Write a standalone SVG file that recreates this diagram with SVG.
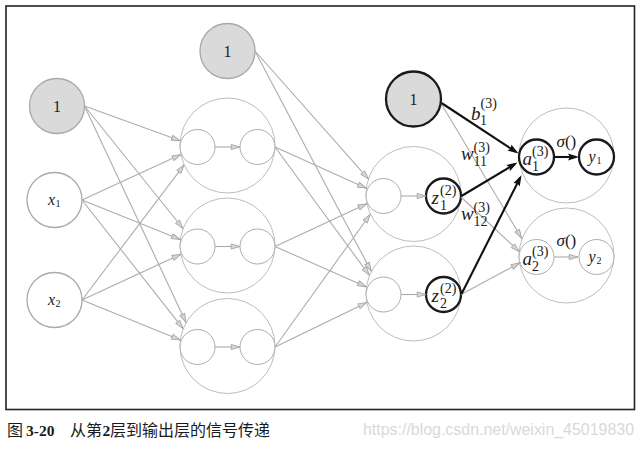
<svg xmlns="http://www.w3.org/2000/svg" width="644" height="450" viewBox="0 0 644 450">
<defs>
<marker id="ag" markerUnits="userSpaceOnUse" markerWidth="11" markerHeight="8" viewBox="0 0 11 8" refX="9.8" refY="4" orient="auto">
<path d="M1,1.4 L9.6,4 L1,6.6 Z" fill="#d6d6d6" stroke="#a6a6a6" stroke-width="0.9"/>
</marker>
<marker id="ab" markerUnits="userSpaceOnUse" markerWidth="12" markerHeight="9" viewBox="0 0 12 9" refX="8" refY="4.5" orient="auto">
<path d="M0,0.9 L11,4.5 L0,8.1 L1.8,4.5 Z" fill="#111"/>
</marker>
</defs>
<style>
.frame{fill:none;stroke:#222;stroke-width:1.6}
.big{fill:none;stroke:#bdbdbd;stroke-width:1}
.in{fill:#fff;stroke:#adadad;stroke-width:1}
.src{fill:#fff;stroke:#a9a9a9;stroke-width:1.3}
.bias{fill:#dadada;stroke:#a9a9a9;stroke-width:1.3}
.biasK{fill:#dadada;stroke:#1a1a1a;stroke-width:2.3}
.inK{fill:#fff;stroke:#1a1a1a;stroke-width:2.3}
.g{fill:none;stroke:#acacac;stroke-width:1.1;marker-end:url(#ag)}
.k{fill:none;stroke:#111;stroke-width:2.1;marker-end:url(#ab)}
.t{font-family:"Liberation Serif","DejaVu Serif",serif;fill:#1a1a1a}
.m{font-family:"Liberation Serif","DejaVu Serif",serif;font-style:italic;fill:#1a1a1a}
.one{font-size:16px;text-anchor:middle}
.L{font-size:19px}
.s{font-size:14px}
.cap{font-family:"Noto Sans CJK SC","Noto Sans",sans-serif;font-size:16px;fill:#1a1a1a}
.capb{font-family:"Liberation Serif","DejaVu Serif",serif;font-weight:bold;font-size:15.5px;fill:#1a1a1a}
</style>
<rect class="frame" x="6" y="6" width="628.5" height="403.5"/>

<g id="n-b0"><circle class="bias" cx="57" cy="106" r="27.5"/><text class="t one" x="57" y="111.5">1</text></g>
<g id="n-x1"><circle class="src" cx="54.5" cy="200" r="27.5"/><text class="m" x="48" y="204.5" font-size="16">x</text><text class="t" x="55.5" y="206.5" font-size="10">1</text></g>
<g id="n-x2"><circle class="src" cx="54.5" cy="300" r="27.5"/><text class="m" x="48" y="304.5" font-size="16">x</text><text class="t" x="55.5" y="306.5" font-size="10">2</text></g>
<g id="n-b1"><circle class="bias" cx="227.5" cy="51" r="27.5"/><text class="t one" x="227.5" y="56.5">1</text></g>

<g id="u-1-1"><circle class="big" cx="227.5" cy="145.5" r="47.5"/>
<g id="n-a11"><circle class="in" cx="197.5" cy="147" r="17.5"/></g>
<g id="n-z11"><circle class="in" cx="257.5" cy="147" r="17.5"/></g></g>
<g id="u-1-2"><circle class="big" cx="227.5" cy="245.5" r="47.5"/>
<g id="n-a12"><circle class="in" cx="197.5" cy="246.5" r="17.5"/></g>
<g id="n-z12"><circle class="in" cx="257.5" cy="246.5" r="17.5"/></g></g>
<g id="u-1-3"><circle class="big" cx="227.5" cy="346" r="47.5"/>
<g id="n-a13"><circle class="in" cx="197.5" cy="347" r="17.5"/></g>
<g id="n-z13"><circle class="in" cx="257.5" cy="347" r="17.5"/></g></g>

<g id="u-2-1"><circle class="big" cx="413.5" cy="194" r="47.5"/>
<g id="n-a21"><circle class="in" cx="383.5" cy="196" r="17.5"/></g>
<g id="n-z21"><circle class="inK" cx="443.5" cy="196" r="17.5"/>
<text class="m L" x="431.5" y="203.5">z</text><text class="t s" x="440" y="194.5">(2)</text><text class="t s" x="440" y="209.5">1</text></g></g>
<g id="u-2-2"><circle class="big" cx="413.5" cy="293.5" r="47.5"/>
<g id="n-a22"><circle class="in" cx="383.5" cy="294.5" r="17.5"/></g>
<g id="n-z22"><circle class="inK" cx="443.5" cy="294.5" r="17.5"/>
<text class="m L" x="431.5" y="302">z</text><text class="t s" x="440" y="293">(2)</text><text class="t s" x="440" y="308">2</text></g></g>

<g id="n-b2"><circle class="biasK" cx="413.5" cy="99" r="27.5"/><text class="t one" x="413.5" y="104.5">1</text></g>

<g id="u-3-1"><circle class="big" cx="566.5" cy="155.5" r="47.5"/>
<g id="n-a31"><circle class="inK" cx="536.5" cy="157" r="17.5"/>
<text class="m L" x="522.5" y="164.5">a</text><text class="t s" x="532" y="155.5">(3)</text><text class="t s" x="532" y="170.5">1</text></g>
<g id="n-y1"><circle class="inK" cx="596.5" cy="157" r="17.5"/>
<text class="m" x="588.5" y="162" font-size="16">y</text><text class="t" x="596.5" y="164" font-size="10">1</text></g>
<text class="t" x="556.5" y="146.5" font-size="17"><tspan font-style="italic">σ</tspan>()</text></g>
<g id="u-3-2"><circle class="big" cx="566.5" cy="255.5" r="47.5"/>
<g id="n-a32"><circle class="in" cx="536.5" cy="257" r="17.5"/>
<text class="m L" x="522.5" y="264.5">a</text><text class="t s" x="532" y="255.5">(3)</text><text class="t s" x="532" y="270.5">2</text></g>
<g id="n-y2"><circle class="in" cx="596.5" cy="257" r="17.5"/>
<text class="m" x="588.5" y="262" font-size="16">y</text><text class="t" x="596.5" y="264" font-size="10">2</text></g>
<text class="t" x="556.5" y="246" font-size="17"><tspan font-style="italic">σ</tspan>()</text></g>

<g id="connectors">
<line class="g" x1="84.5" y1="106" x2="180.3" y2="140.7"/>
<line class="g" x1="84.5" y1="106" x2="183" y2="228.5"/>
<line class="g" x1="84.5" y1="106" x2="186" y2="322.4"/>
<line class="g" x1="82" y1="200" x2="180.9" y2="154.6"/>
<line class="g" x1="82" y1="200" x2="180.3" y2="239.6"/>
<line class="g" x1="82" y1="200" x2="183.1" y2="328.7"/>
<line class="g" x1="82" y1="300" x2="184.1" y2="164.8"/>
<line class="g" x1="82" y1="300" x2="180.9" y2="254.2"/>
<line class="g" x1="82" y1="300" x2="180.3" y2="340"/>
<line class="g" x1="215" y1="147" x2="240" y2="147"/>
<line class="g" x1="215" y1="246.5" x2="240" y2="246.5"/>
<line class="g" x1="215" y1="347" x2="240" y2="347"/>
<line class="g" x1="255" y1="51" x2="368.6" y2="179.2"/>
<line class="g" x1="255" y1="51" x2="371.2" y2="271.3"/>
<line class="g" x1="275" y1="147" x2="366.4" y2="188.3"/>
<line class="g" x1="275" y1="147" x2="369.4" y2="275.3"/>
<line class="g" x1="275" y1="246.5" x2="366.9" y2="203.7"/>
<line class="g" x1="275" y1="246.5" x2="366.4" y2="286.9"/>
<line class="g" x1="275" y1="347" x2="370.3" y2="214.3"/>
<line class="g" x1="275" y1="347" x2="366.9" y2="302.4"/>
<line class="g" x1="401" y1="196" x2="426" y2="196"/>
<line class="g" x1="401" y1="294.5" x2="426" y2="294.5"/>
<line class="g" x1="441.7" y1="104.5" x2="521.7" y2="238.3"/>
<line class="g" x1="461" y1="197" x2="519.3" y2="251.7"/>
<line class="g" x1="461" y1="294.5" x2="520" y2="262.7"/>
<line class="g" x1="554" y1="257" x2="578" y2="257"/>
<line class="k" x1="441.5" y1="103" x2="516" y2="151.9"/>
<line class="k" x1="461.5" y1="196" x2="514.9" y2="164"/>
<line class="k" x1="461.5" y1="294" x2="520.15" y2="177.7"/>
<line class="k" x1="554" y1="157" x2="576" y2="157"/>
</g>

<g id="edge-labels">
<text class="m L" x="471" y="120">b</text><text class="t s" x="480.5" y="108">(3)</text><text class="t s" x="480" y="125">1</text>
<text class="m L" x="461" y="160">w</text><text class="t s" x="473.5" y="151.5">(3)</text><text class="t s" x="473.5" y="165.5">11</text>
<text class="m L" x="461" y="220">w</text><text class="t s" x="473.5" y="211.5">(3)</text><text class="t s" x="473.5" y="225.5">12</text>
</g>

<g id="caption">
<text class="cap" x="7" y="436">图</text>
<text class="capb" x="26" y="436">3-20</text>
<text class="cap" x="70" y="436">从第</text>
<text class="capb" x="102.5" y="436">2</text>
<text class="cap" x="110" y="436">层到输出层的信号传递</text>
<text x="363" y="435" font-family="Liberation Sans, Arial, sans-serif" font-size="16" fill="#d9d9d9" textLength="271" lengthAdjust="spacingAndGlyphs">https://blog.csdn.net/weixin_45019830</text>
</g>
</svg>
